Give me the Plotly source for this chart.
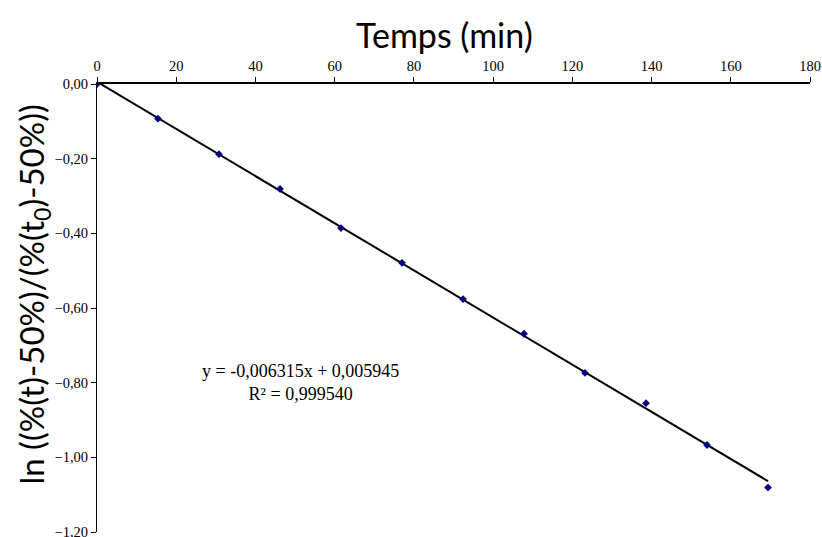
import plotly.graph_objects as go

temps = [0, 15.4, 30.8, 46.2, 61.6, 77.0, 92.4, 107.8, 123.2, 138.6, 154.0, 169.4]
ln_vals = [0.0, -0.093, -0.188, -0.281, -0.386, -0.479, -0.576, -0.669, -0.774, -0.855, -0.967, -1.081]
slope = -0.006315
intercept = 0.005945
eq_text = "y = -0,006315x + 0,005945<br>R² = 0,999540"

fit_x = [temps[0], temps[-1]]
fit_y = [slope * x + intercept for x in fit_x]

fig = go.Figure()
fig.add_trace(go.Scatter(x=fit_x, y=fit_y, mode="lines",
                         line=dict(color="black", width=2), showlegend=False))
fig.add_trace(go.Scatter(x=temps, y=ln_vals, mode="markers",
                         marker=dict(symbol="diamond", size=6, color="#000080"),
                         showlegend=False))

fig.add_annotation(x=51.3, y=-0.80, xref="x", yref="y", text=eq_text, showarrow=False,
                   font=dict(family="Liberation Serif", size=18, color="black"),
                   align="center")
fig.add_annotation(x=0.487, y=1.0, xref="paper", yref="paper", yshift=50,
                   xanchor="center", yanchor="middle", showarrow=False,
                   text="Temps (min)",
                   font=dict(family="Lato", size=34, color="black"))
fig.add_annotation(x=0.0, y=0.53, xref="paper", yref="paper", xshift=-63,
                   xanchor="center", yanchor="middle", showarrow=False, textangle=-90,
                   text="ln ((%(t)-50%)/(%(t<sub>0</sub>)-50%))",
                   font=dict(family="Lato", size=33, color="black"))

fig.update_layout(
    width=822, height=537,
    margin=dict(l=97, r=12, t=84, b=5, autoexpand=False),
    plot_bgcolor="white", paper_bgcolor="white",
    separators=", ",
    showlegend=False,
    xaxis=dict(range=[0, 180], side="top", dtick=20, tick0=0, automargin=False,
               showgrid=False, zeroline=False,
               showline=True, linecolor="black", linewidth=1.5,
               ticks="outside", ticklen=5, tickcolor="black",
               ticklabeloverflow="allow",
               tickfont=dict(family="Liberation Serif", size=14.5, color="black")),
    yaxis=dict(range=[-1.2, 0], dtick=0.2, tick0=0, tickformat=".2f", automargin=False,
               showgrid=False, zeroline=False,
               showline=True, linecolor="black", linewidth=1,
               ticks="outside", ticklen=5, tickcolor="black",
               ticklabeloverflow="allow",
               tickfont=dict(family="Liberation Serif", size=14.5, color="black")),
)

fig.write_html(
    "out.html",
    config={"displayModeBar": False},
    post_script="document.documentElement.style.overflow='hidden';"
                "document.body.style.margin='0';document.body.style.overflow='hidden';",
)
